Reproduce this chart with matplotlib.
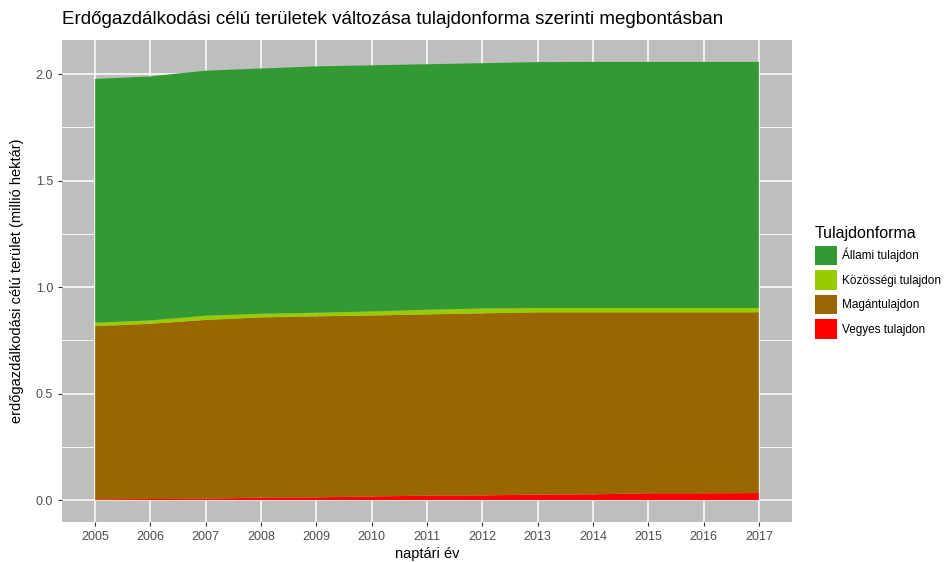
import matplotlib.pyplot as plt
import numpy as np
from matplotlib.patches import Patch

plt.rcParams['font.family'] = ['Liberation Sans', 'DejaVu Sans']

# values (million hectares)
years = list(range(2005, 2018))
vegyes = [0.004, 0.005, 0.006, 0.012, 0.013, 0.017, 0.021, 0.022, 0.026, 0.027, 0.032, 0.032, 0.033]
magan = [0.813, 0.823, 0.840, 0.846, 0.850, 0.850, 0.851, 0.855, 0.856, 0.855, 0.850, 0.850, 0.849]
kozossegi = [0.016, 0.016, 0.020, 0.017, 0.017, 0.019, 0.022, 0.023, 0.020, 0.020, 0.020, 0.020, 0.020]
allami = [1.145, 1.146, 1.151, 1.152, 1.157, 1.156, 1.153, 1.152, 1.155, 1.156, 1.156, 1.156, 1.156]

labels = ["Vegyes tulajdon", "Magántulajdon", "Közösségi tulajdon", "Állami tulajdon"]
colors = ["#FF0000", "#996600", "#99CC00", "#339933"]

fig = plt.figure(figsize=(9.51, 5.62), dpi=100)
ax = fig.add_axes([62 / 951, 40 / 562, 730 / 951, 482 / 562])
ax.set_facecolor("#BEBEBE")

ax.stackplot(years, vegyes, magan, kozossegi, allami, colors=colors,
             linewidth=0, zorder=3)

total = np.sum([vegyes, magan, kozossegi, allami], axis=0).max()
ax.set_xlim(2005 - 0.05 * 12, 2017 + 0.05 * 12)
ax.set_ylim(-0.05 * total, 1.05 * total)

ax.set_xticks(years)
ax.set_yticks([0, 0.5, 1.0, 1.5, 2.0])
ax.set_yticklabels(["0.0", "0.5", "1.0", "1.5", "2.0"])
ax.set_yticks([0.25, 0.75, 1.25, 1.75], minor=True)
ax.grid(which="major", color="white", linewidth=1.1, zorder=1)
ax.grid(which="minor", axis="y", color="white", linewidth=0.6, zorder=1)
ax.set_axisbelow(True)
for s in ax.spines.values():
    s.set_visible(False)
ax.tick_params(axis="both", which="major", colors="#333333", labelsize=9,
               length=3, width=0.8, color="#333333")
ax.tick_params(axis="y", which="minor", length=0)
ax.tick_params(axis="x", labelcolor="#4D4D4D")
ax.tick_params(axis="y", labelcolor="#4D4D4D")

ax.set_xlabel("naptári év", fontsize=10.5, labelpad=3)
ax.set_ylabel("erdőgazdálkodási célú terület (millió hektár)", fontsize=10.5, labelpad=8)
fig.text(62 / 951, 1 - 20 / 562, "Erdőgazdálkodási célú területek változása tulajdonforma szerinti megbontásban",
         fontsize=13.5, va="center", ha="left")

handles = [Patch(facecolor=c, edgecolor="none") for c in colors[::-1]]
leg = fig.legend(handles, labels[::-1], title="Tulajdonforma", loc="upper left",
                 bbox_to_anchor=(815 / 951, 1 - 226 / 562), frameon=False,
                 fontsize=8.5, title_fontsize=11.5, handlelength=1.9, handleheight=2.2,
                 handletextpad=0.4, labelspacing=0.4, borderaxespad=0, borderpad=0)
leg._legend_box.align = "left"

fig.savefig("out.png", dpi=100)
